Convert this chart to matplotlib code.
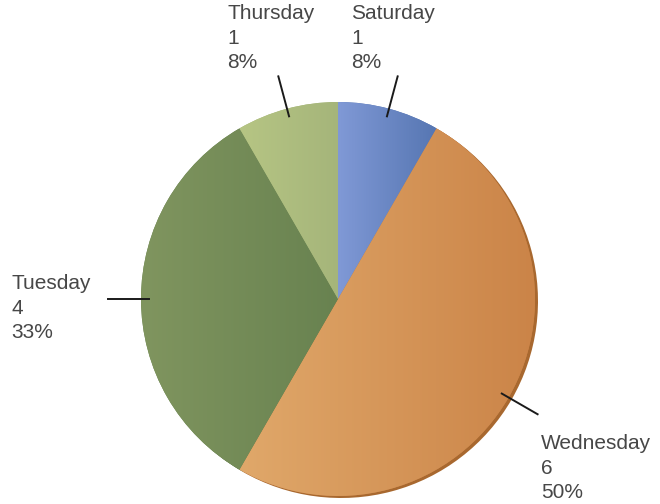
import numpy as np
import matplotlib.pyplot as plt
from matplotlib.colors import LinearSegmentedColormap

# Days and counts, drawn clockwise from 12 o'clock
days = ["Saturday", "Wednesday", "Tuesday", "Thursday"]
counts = [1, 6, 4, 1]

# light (left) / dark (right) shade for each slice
light = ["#8099d6", "#e0a86a", "#80955f", "#b6c584"]
dark = ["#5676b2", "#cb8448", "#688250", "#a5b57a"]
rim = ["#4a6699", "#a8682f", "#556b40", "#7f8f55"]

# text anchor (left, top) for each label, in pixels
label_xy = [(351, 4), (541, 434), (11, 274), (227, 4)]

W, H = 660, 504
cx, cy, R = 338, H - 299, 197

fig = plt.figure(figsize=(W / 100, H / 100), dpi=100)
ax = fig.add_axes([0, 0, 1, 1])
ax.set_xlim(0, W)
ax.set_ylim(0, H)
ax.set_aspect("equal")
ax.axis("off")

# thin darker copy behind, gives the 3d rim
ax.pie(counts, colors=rim, startangle=90, counterclock=False,
       center=(cx + 3, cy - 2), radius=R, frame=True,
       wedgeprops=dict(linewidth=0))

wedges, _ = ax.pie(counts, colors=dark, startangle=90, counterclock=False,
                   center=(cx, cy), radius=R, frame=True,
                   wedgeprops=dict(linewidth=0))

# horizontal gradient inside each slice
grad = np.linspace(0, 1, 256).reshape(1, -1)
for w, c0, c1 in zip(wedges, light, dark):
    ext = w.get_path().get_extents()
    cmap = LinearSegmentedColormap.from_list("s", [c0, c1])
    im = ax.imshow(grad, cmap=cmap, aspect="auto", interpolation="bilinear",
                   extent=[ext.x0, ext.x1, ext.y0, ext.y1], zorder=2)
    im.set_clip_path(w)

ax.set_xlim(0, W)
ax.set_ylim(0, H)

total = sum(counts)
for w, day, n, (tx, ty) in zip(wedges, days, counts, label_xy):
    mid = np.deg2rad((w.theta1 + w.theta2) / 2)
    x0, y0 = cx + 0.96 * R * np.cos(mid), cy + 0.96 * R * np.sin(mid)
    x1, y1 = cx + 1.17 * R * np.cos(mid), cy + 1.17 * R * np.sin(mid)
    ax.plot([x0, x1], [y0, y1], color="#1a1a1a", lw=1.4, zorder=3)
    ax.text(tx, H - ty, f"{day}\n{n}\n{100 * n / total:.0f}%",
            ha="left", va="top", fontsize=15, color="#474747",
            family="Liberation Sans", linespacing=1.38, zorder=4)

fig.savefig("out.png", dpi=100)
